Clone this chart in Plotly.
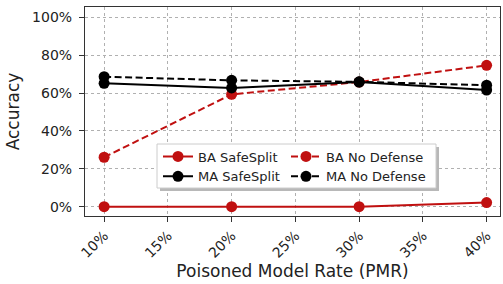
import plotly.graph_objects as go

pmr = [10, 20, 30, 40]
ba_safesplit = [0.0, 0.0, 0.0, 2.2]
ba_nodefense = [26.1, 59.3, 65.8, 74.6]
ma_safesplit = [65.1, 62.7, 65.8, 61.6]
ma_nodefense = [68.6, 66.7, 65.9, 64.1]
x_ticks = [10, 15, 20, 25, 30, 35, 40]
x_ticklabels = [f"{v}%" for v in x_ticks]
y_ticks = [0, 20, 40, 60, 80, 100]
y_ticklabels = [f"{v}%" for v in y_ticks]

RED = "#c01010"
BLACK = "#000000"
DASH = "7px,3.5px"

fig = go.Figure()
series = [
    ("BA SafeSplit", ba_safesplit, RED, "solid", "legend"),
    ("BA No Defense", ba_nodefense, RED, DASH, "legend2"),
    ("MA SafeSplit", ma_safesplit, BLACK, "solid", "legend"),
    ("MA No Defense", ma_nodefense, BLACK, DASH, "legend2"),
]
for name, vals, col, dash, leg in series:
    fig.add_trace(go.Scatter(
        x=pmr, y=vals, name=name, mode="lines+markers",
        line=dict(color=col, width=2, dash=dash),
        marker=dict(color=col, size=11),
        legend=leg,
    ))

font = "DejaVu Sans"
L, R, T, B = 85, 3, 7, 68
W, H = 503, 284
pw, ph = W - L - R, H - T - B

def px2paper(x, y):
    return (x - L) / pw, (H - B - y) / ph

# legend frame with shadow
sx0, sy0 = px2paper(160, 191)
sx1, sy1 = px2paper(439, 147)
fig.add_shape(type="rect", xref="paper", yref="paper", x0=sx0, x1=sx1, y0=sy0, y1=sy1,
              fillcolor="#b8b8b8", line=dict(width=0), layer="above")
bx0, by0 = px2paper(157, 188)
bx1, by1 = px2paper(436, 144)
fig.add_shape(type="rect", xref="paper", yref="paper", x0=bx0, x1=bx1, y0=by0, y1=by1,
              fillcolor="white", line=dict(width=1, color="#cccccc"), layer="above")

legfont = dict(size=13, family=font, color="#222222")
l1x, l1y = px2paper(158, 141.5)
l2x, l2y = px2paper(286, 141.5)
common = dict(xanchor="left", yanchor="top", bgcolor="rgba(0,0,0,0)", borderwidth=0,
              font=legfont, itemwidth=30, tracegroupgap=0, orientation="v")
fig.update_layout(
    width=W, height=H,
    margin=dict(l=L, r=R, t=T, b=B),
    paper_bgcolor="white", plot_bgcolor="white",
    font=dict(family=font, color="#222222", size=14),
    legend=dict(x=l1x, y=l1y, **common),
    legend2=dict(x=l2x, y=l2y, **common),
    xaxis=dict(
        range=[8.5, 41.05], tickvals=x_ticks, ticktext=x_ticklabels,
        tickangle=-45, showgrid=True, gridcolor="#b0b0b0", griddash="dot", gridwidth=1,
        showline=True, linecolor="#333333", linewidth=1.2, mirror=True,
        ticks="outside", ticklen=5, tickcolor="#333333",
        title=dict(text="Poisoned Model Rate (PMR)", font=dict(size=17, family=font), standoff=4),
        zeroline=False, automargin=False,
    ),
    yaxis=dict(
        range=[-4.9, 105.4], tickvals=y_ticks, ticktext=y_ticklabels,
        showgrid=True, gridcolor="#b0b0b0", griddash="dot", gridwidth=1,
        showline=True, linecolor="#333333", linewidth=1.2, mirror=True,
        ticks="outside", ticklen=5, tickcolor="#333333",
        ticklabelstandoff=4,
        title=dict(text="Accuracy", font=dict(size=17, family=font), standoff=8),
        zeroline=False, automargin=False,
    ),
)
fig.write_html("out.html", config={"displayModeBar": False},
               post_script="document.body.style.margin='0';document.body.style.overflow='hidden';")
